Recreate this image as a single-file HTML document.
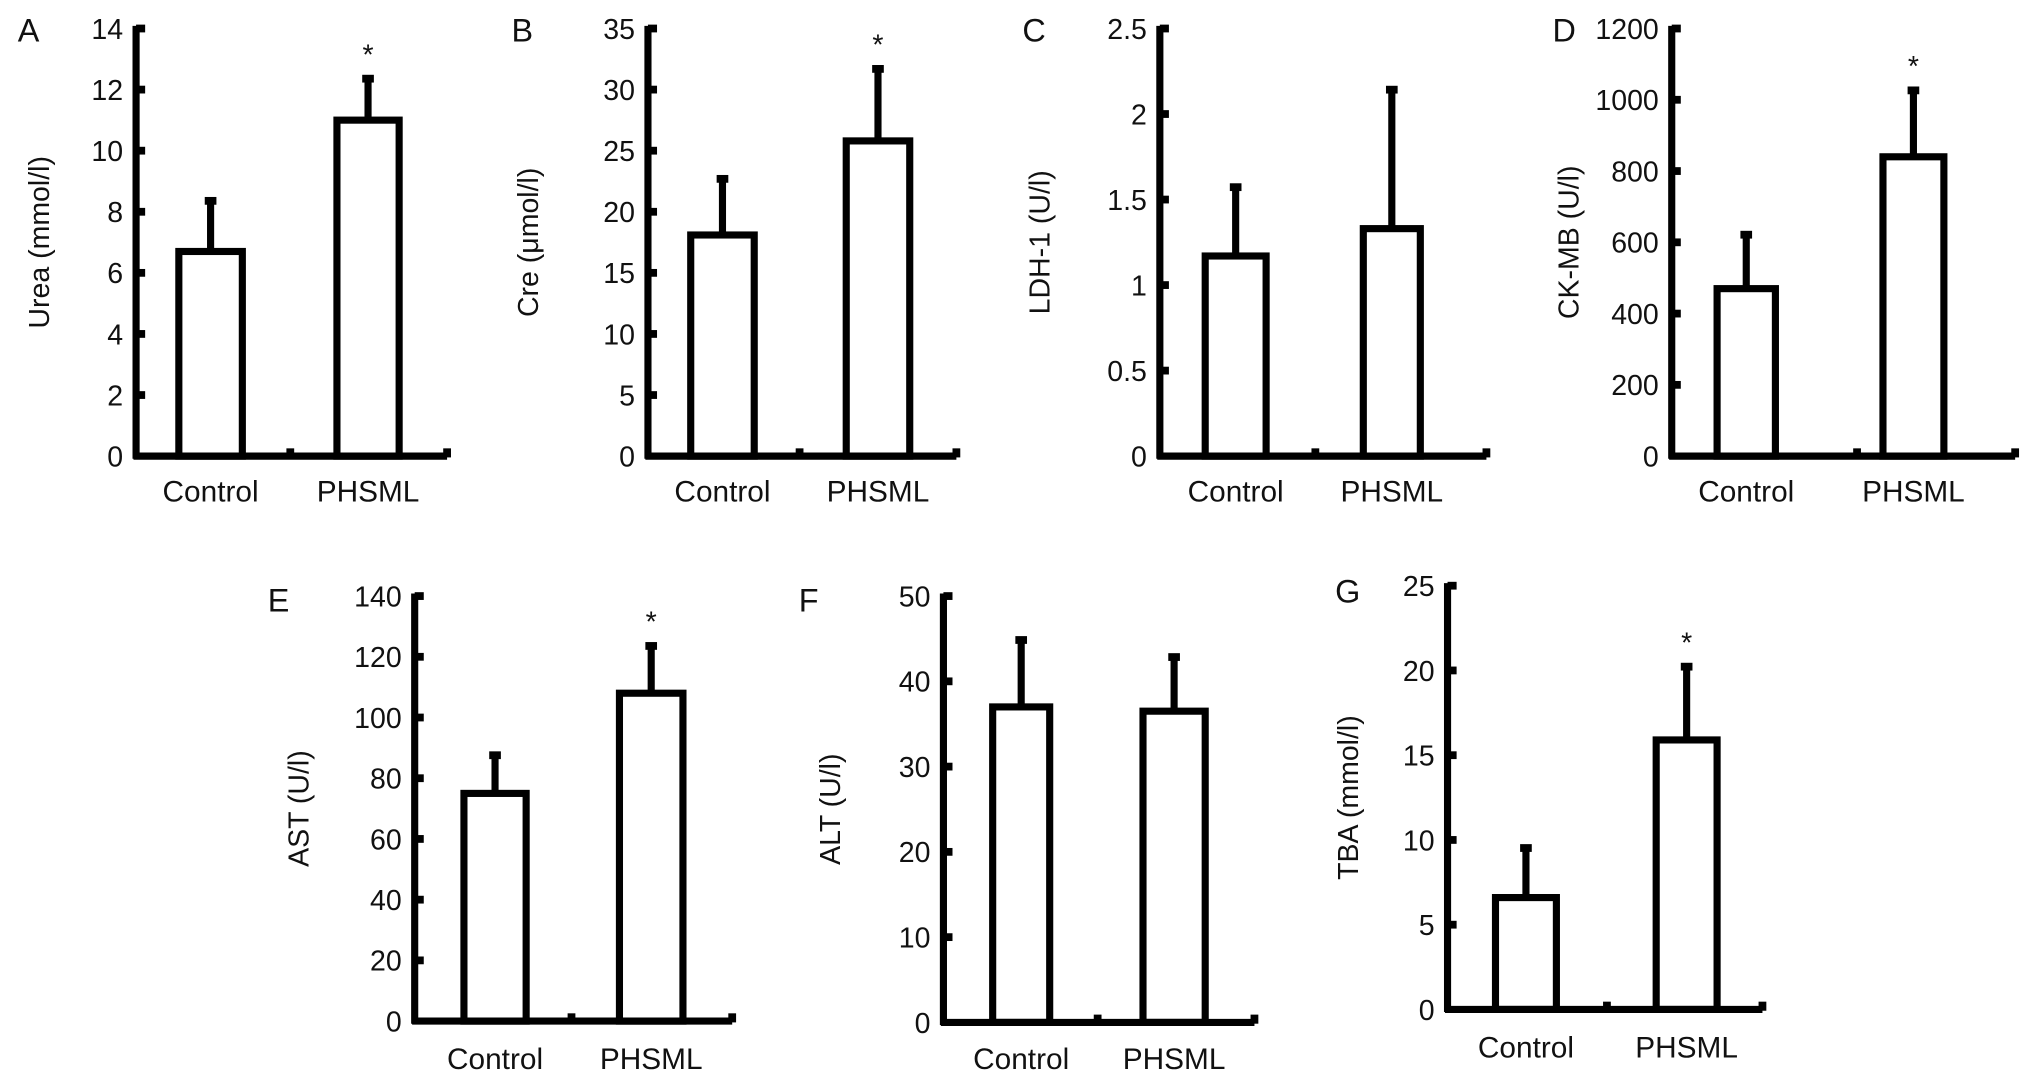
<!DOCTYPE html>
<html><head><meta charset="utf-8"><style>
html,body{margin:0;padding:0;background:#fff;width:2032px;height:1082px;overflow:hidden}
svg{display:block}
text{font-family:"Liberation Sans",Arial,sans-serif;fill:#111}
</style></head><body>
<svg id="fig" width="2032" height="1082" viewBox="0 0 1568 835" preserveAspectRatio="none"></svg>
<script>
const categories = ["Control", "PHSML"];
const panelLetters = ["A","B","C","D","E","F","G"];
const yTitles = ["Urea (mmol/l)","Cre (\u03bcmol/l)","LDH-1 (U/l)","CK-MB (U/l)","AST (U/l)","ALT (U/l)","TBA (mmol/l)"];
const yMax = [14, 35, 2.5, 1200, 140, 50, 25];
const yStep = [2, 5, 0.5, 200, 20, 10, 5];
const meanA = [6.7, 11.0], errA = [8.4, 12.4];
const meanB = [18.1, 25.8], errB = [22.8, 31.8];
const meanC = [1.17, 1.33], errC = [1.58, 2.15];
const meanD = [470, 840], errD = [625, 1030];
const meanE = [75, 108], errE = [88, 124];
const meanF = [37, 36.5], errF = [45, 43];
const meanG = [6.6, 15.9], errG = [9.6, 20.3];
const means = [meanA, meanB, meanC, meanD, meanE, meanF, meanG];
const errs = [errA, errB, errC, errD, errE, errF, errG];
const stars = [[false,true],[false,true],[false,false],[false,true],[false,true],[false,false],[false,true]];

const layout = [
 {ax:105,end:345,zero:352,top:22,b:[[138,187],[260,308]],mid:224,yl:38,lx:22,ly:32,cy:387},
 {ax:500,end:738,zero:352,top:22,b:[[533,582],[653,702]],mid:617,yl:415,lx:403,ly:32,cy:387},
 {ax:895,end:1147,zero:352,top:22,b:[[930,977],[1052,1096]],mid:1015,yl:810,lx:798,ly:32,cy:387},
 {ax:1290,end:1555,zero:352,top:22,b:[[1325,1370],[1453,1500]],mid:1433,yl:1218,lx:1207,ly:32,cy:387},
 {ax:320,end:565,zero:788,top:460,b:[[358,406],[478,527]],mid:441,yl:238,lx:215,ly:472,cy:825},
 {ax:728,end:968,zero:789,top:460,b:[[766,810],[882,930]],mid:847,yl:648,lx:624,ly:472,cy:825},
 {ax:1117,end:1360,zero:779,top:452,b:[[1154,1201],[1278,1325]],mid:1240,yl:1048,lx:1040,ly:465,cy:816}
];
const NS="http://www.w3.org/2000/svg";
const svg=document.getElementById('fig');
function mk(tag,attrs,parent){const e=document.createElementNS(NS,tag);for(const k in attrs)e.setAttribute(k,attrs[k]);(parent||svg).appendChild(e);return e;}
const SW=5.5;
layout.forEach((L,p)=>{
  const g=mk('g',{});
  
  
  const y=v=>L.zero-(v/yMax[p])*(L.zero-L.top);
  const lt=mk('text',{x:L.lx,y:L.ly,'font-size':25,'text-anchor':'middle'},g);lt.textContent=panelLetters[p];
  
  
  const yt=mk('text',{x:L.yl,y:(L.zero+L.top)/2,'font-size':22,'text-anchor':'middle',transform:`rotate(-90 ${L.yl} ${(L.zero+L.top)/2})`},g);
  yt.textContent=yTitles[p];
  
  
  categories.forEach((c,i)=>{
    const [x0,x1]=L.b[i];const xc=(x0+x1)/2;
    const top=y(means[p][i]), et=y(errs[p][i]);
    const eb=mk('line',{x1:xc,x2:xc,y1:top,y2:et,stroke:'#000','stroke-width':SW},g);
    
    
    const cap=mk('rect',{x:xc-4.5,y:et-2,width:9,height:6,fill:'#000'},g);
    
    
    const r=mk('rect',{x:x0,y:top,width:x1-x0,height:L.zero-top,fill:'#fff',stroke:'#000','stroke-width':SW},g);
    
    
    const ct=mk('text',{x:xc,y:L.cy,'font-size':23,'text-anchor':'middle'},g);ct.textContent=c;
    
    
    if(stars[p][i]){const s=mk('text',{x:xc,y:et-10,'font-size':22,'text-anchor':'middle'},g);s.textContent='*';
      
      }
  });
  const ya=mk('line',{x1:L.ax,x2:L.ax,y1:L.top-2,y2:L.zero+2,stroke:'#000','stroke-width':SW},g);
  
  
  const xa=mk('line',{x1:L.ax-2,x2:L.end,y1:L.zero,y2:L.zero,stroke:'#000','stroke-width':SW},g);
  
  
  [L.mid,L.end].forEach(xx=>{const t=mk('rect',{x:xx-3,y:L.zero-6,width:6,height:7,fill:'#000'},g);
    
    });
  const n=Math.round(yMax[p]/yStep[p]);
  for(let k=0;k<=n;k++){
    const v=+(k*yStep[p]).toFixed(2), yy=y(v);
    if(k>0){const t=mk('rect',{x:L.ax,y:yy-3,width:7,height:6,fill:'#000'},g);
      
      }
    const tl=mk('text',{x:L.ax-10,y:yy+8,'font-size':22,'text-anchor':'end'},g);tl.textContent=String(v);
    
    
  }
});
</script>
</body></html>
